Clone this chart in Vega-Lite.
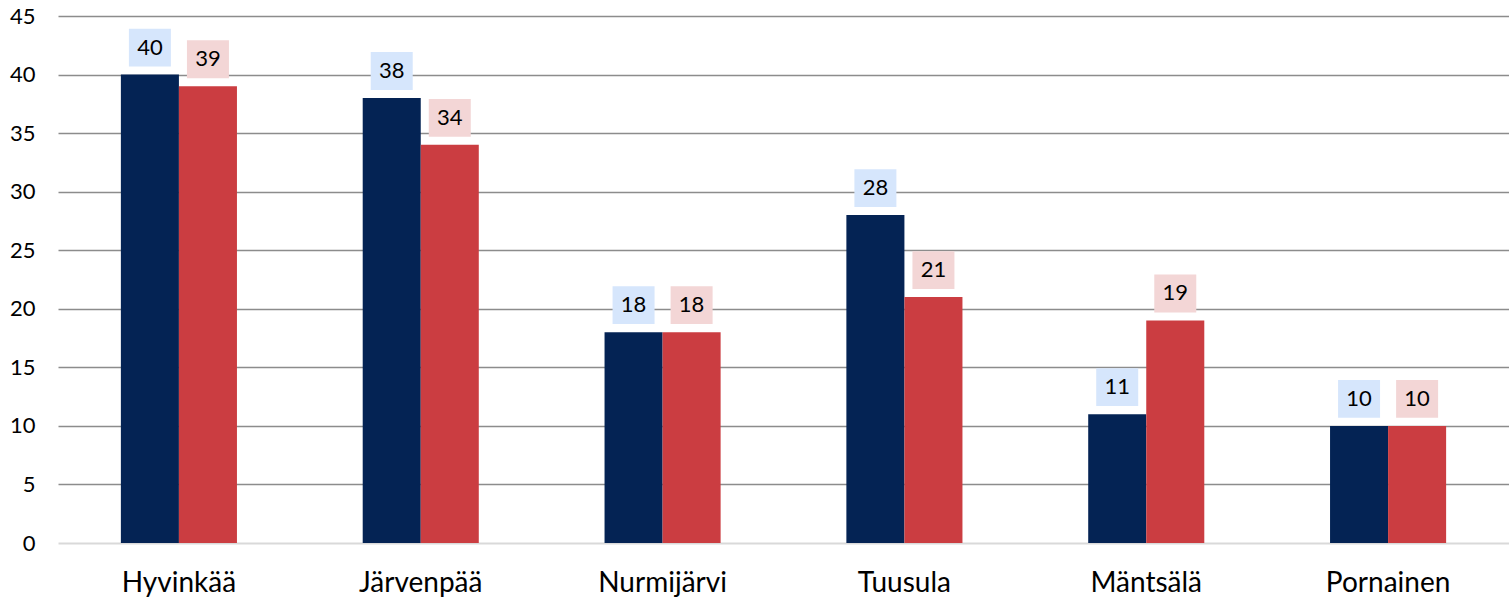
{
  "$schema": "https://vega.github.io/schema/vega-lite/v6.json",
  "width": 1451,
  "height": 527,
  "autosize": {"type": "none"},
  "padding": {"left": 58, "top": 16, "right": 0, "bottom": 57},
  "background": "white",
  "config": {"view": {"stroke": null}, "font": "Lato"},
  "data": {"values": [
    {"kunta": "Hyvinkää", "sarja": "Sarja 1", "arvo": 40},
    {"kunta": "Hyvinkää", "sarja": "Sarja 2", "arvo": 39},
    {"kunta": "Järvenpää", "sarja": "Sarja 1", "arvo": 38},
    {"kunta": "Järvenpää", "sarja": "Sarja 2", "arvo": 34},
    {"kunta": "Nurmijärvi", "sarja": "Sarja 1", "arvo": 18},
    {"kunta": "Nurmijärvi", "sarja": "Sarja 2", "arvo": 18},
    {"kunta": "Tuusula", "sarja": "Sarja 1", "arvo": 28},
    {"kunta": "Tuusula", "sarja": "Sarja 2", "arvo": 21},
    {"kunta": "Mäntsälä", "sarja": "Sarja 1", "arvo": 11},
    {"kunta": "Mäntsälä", "sarja": "Sarja 2", "arvo": 19},
    {"kunta": "Pornainen", "sarja": "Sarja 1", "arvo": 10},
    {"kunta": "Pornainen", "sarja": "Sarja 2", "arvo": 10}
  ]},
  "encoding": {
    "x": {"field": "kunta", "type": "nominal", "sort": null,
      "scale": {"paddingInner": 0.52, "paddingOuter": 0.26},
      "axis": {"title": null, "domain": false, "ticks": false, "labelAngle": 0, "labelFontSize": 28, "labelColor": "#000000", "labelPadding": 26, "labelFont": "Lato"}},
    "xOffset": {"field": "sarja", "type": "nominal", "scale": {"paddingInner": 0, "paddingOuter": 0}},
    "y": {"field": "arvo", "type": "quantitative",
      "scale": {"domain": [0, 45], "nice": false},
      "axis": {"title": null, "domain": false, "ticks": false, "values": [0,5,10,15,20,25,30,35,40,45], "labelFontSize": 22, "labelColor": "#000000", "labelPadding": 23, "labelFont": "Lato",
        "gridColor": {"condition": {"test": "datum.value === 0", "value": "#d9d9d9"}, "value": "#8c8c8c"},
        "gridWidth": {"condition": {"test": "datum.value === 0", "value": 2}, "value": 1.5}}}
  },
  "layer": [
    {"mark": {"type": "bar"},
     "encoding": {"color": {"field": "sarja", "type": "nominal", "legend": null,
       "scale": {"domain": ["Sarja 1", "Sarja 2"], "range": ["#042354", "#CB3D41"]}}}},
    {"mark": {"type": "point", "filled": true, "opacity": 1, "yOffset": -27, "shape": "M-1,-0.9H1V0.9H-1Z", "size": 1764},
     "encoding": {"color": {"field": "sarja", "type": "nominal", "legend": null,
       "scale": {"domain": ["Sarja 1", "Sarja 2"], "range": ["#D6E6FC", "#F3D6D6"]}}}},
    {"mark": {"type": "text", "dy": -27, "fontSize": 22, "color": "#000000", "baseline": "middle"},
     "encoding": {"text": {"field": "arvo", "type": "quantitative"}}}
  ],
  "resolve": {"scale": {"color": "independent"}}
}
